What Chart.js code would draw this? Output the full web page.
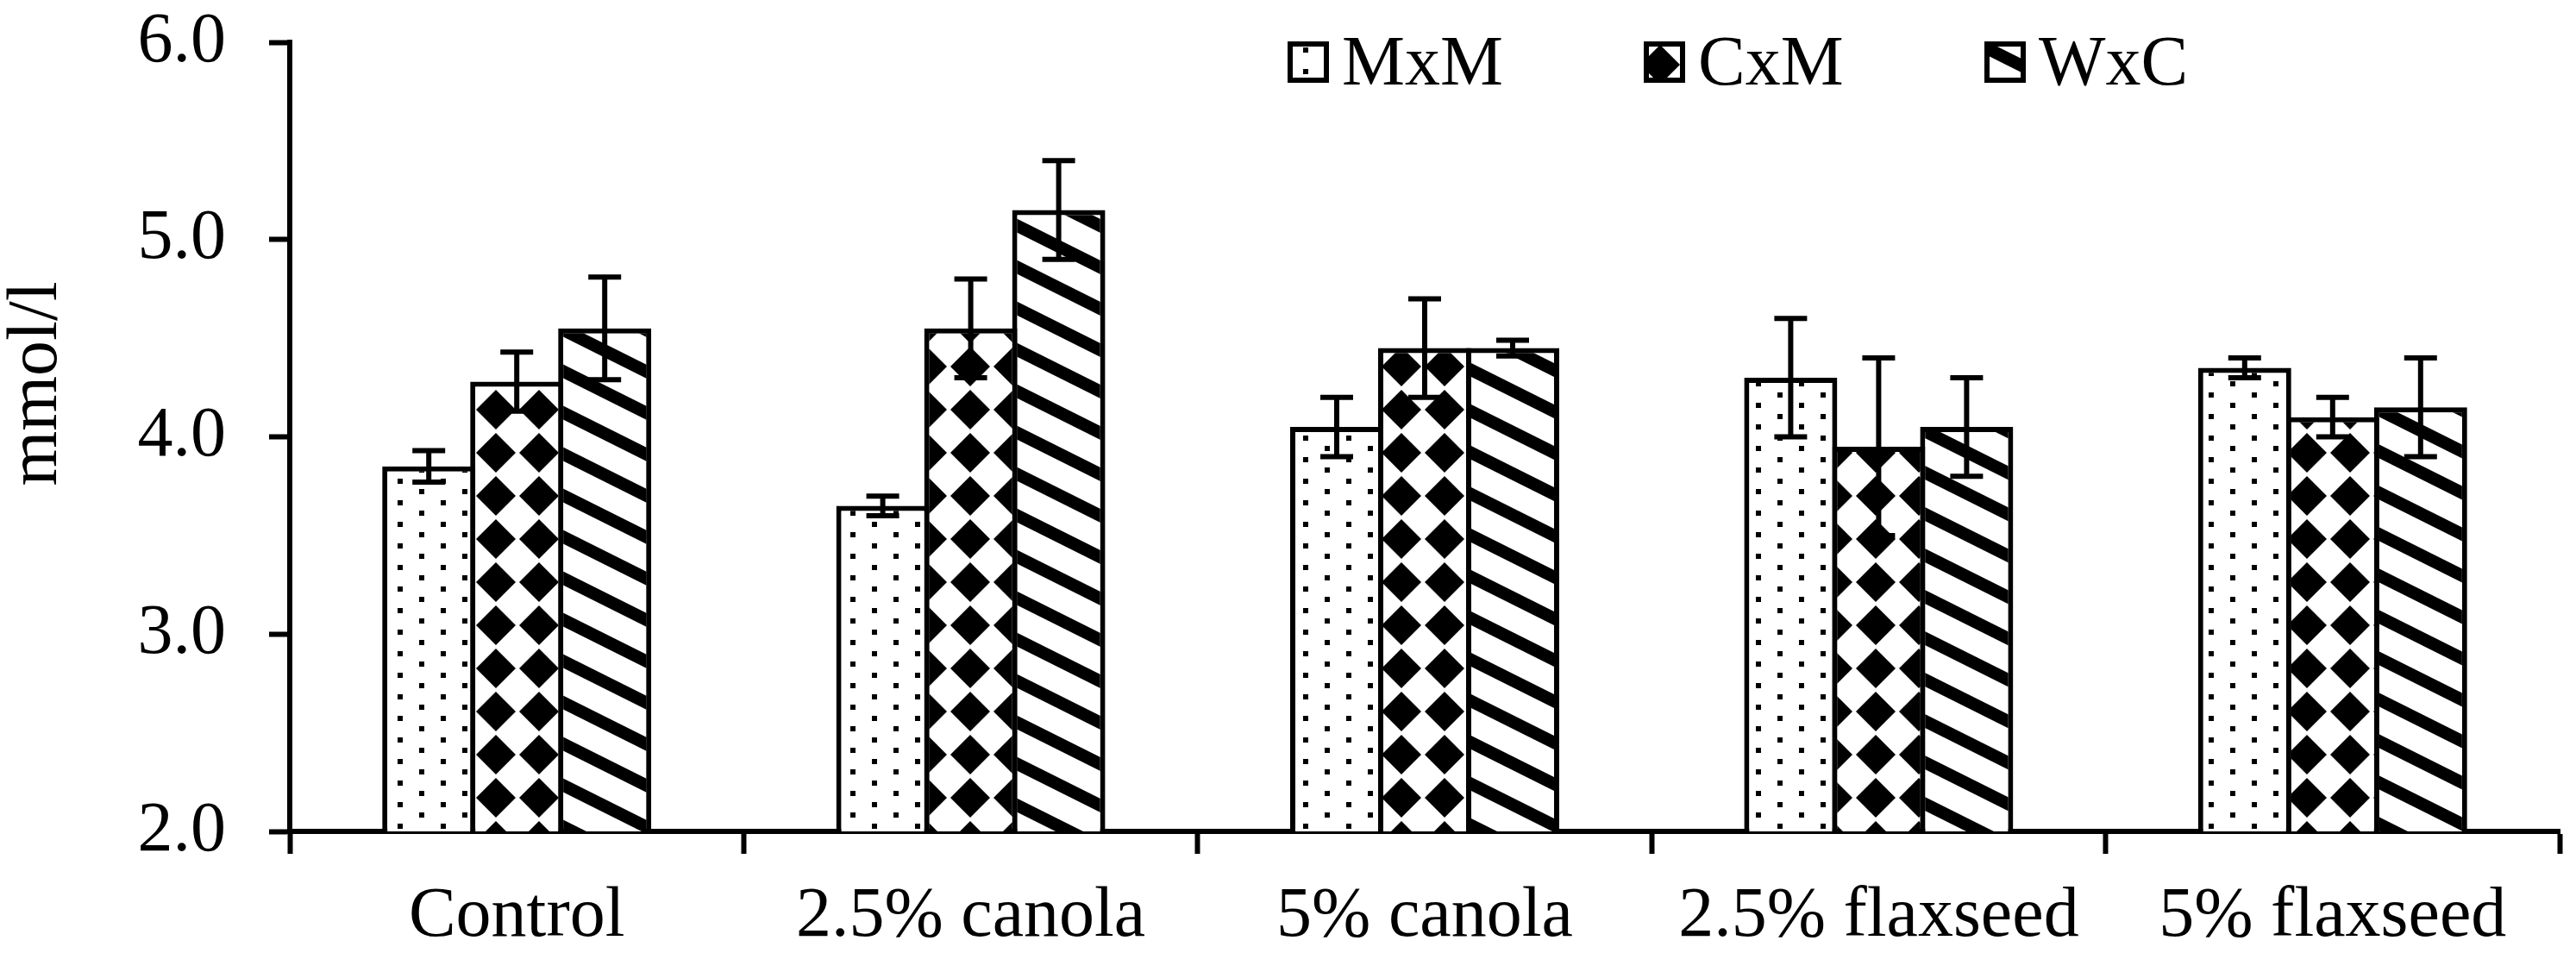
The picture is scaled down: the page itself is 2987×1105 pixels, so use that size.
<!DOCTYPE html>
<html>
<head>
<meta charset="utf-8">
<script src="https://cdn.jsdelivr.net/npm/chart.js@4.4.1/dist/chart.umd.min.js"></script>
<style>
  html, body { margin: 0; padding: 0; background: #fff; }
  #wrap { width: 2987px; height: 1105px; }
</style>
</head>
<body>
<div id="wrap"><canvas id="c" width="2987" height="1105"></canvas></div>
<script>
// ---- data ----
const categories = ['Control', '2.5% canola', '5% canola', '2.5% flaxseed', '5% flaxseed'];
const seriesNames = ['MxM', 'CxM', 'WxC'];
const mxm = [3.85, 3.65, 4.05, 4.30, 4.35];
const cxm = [4.28, 4.55, 4.45, 3.95, 4.10];
const wxc = [4.55, 5.15, 4.45, 4.05, 4.15];
const mxmErr = [0.08, 0.05, 0.15, 0.30, 0.05];
const cxmErr = [0.15, 0.25, 0.25, 0.45, 0.10];
const wxcErr = [0.26, 0.25, 0.04, 0.25, 0.25];
const yTickLabels = ['2.0', '3.0', '4.0', '5.0', '6.0'];
const yTitle = 'mmol/l';

// ---- patterns ----
const canvas = document.getElementById('c');
const mainCtx = canvas.getContext('2d');

function makeTile(w, h, draw) {
  const t = document.createElement('canvas');
  t.width = w; t.height = h;
  const g = t.getContext('2d');
  g.fillStyle = '#fff'; g.fillRect(0, 0, w, h);
  g.fillStyle = '#000';
  draw(g);
  return mainCtx.createPattern(t, 'repeat');
}
const patDots = makeTile(50, 25, g => {
  g.fillRect(11, 5, 6, 6);
  g.fillRect(36, 17, 6, 6);
});
const patDiamonds = makeTile(50, 50, g => {
  const h = 23;
  g.beginPath();
  g.moveTo(25, 25 - h); g.lineTo(25 + h, 25); g.lineTo(25, 25 + h); g.lineTo(25 - h, 25);
  g.closePath(); g.fill();
});
const patStripes = makeTile(96, 48, g => {
  for (let k = -2; k <= 1; k++) {
    const o = k * 48;
    g.beginPath();
    g.moveTo(0, o); g.lineTo(96, o + 48); g.lineTo(96, o + 48 + 16); g.lineTo(0, o + 16);
    g.closePath(); g.fill();
  }
});
const patterns = [patDots, patDiamonds, patStripes];
const seriesValues = [mxm, cxm, wxc];
const seriesErrors = [mxmErr, cxmErr, wxcErr];

const FONT = 'Liberation Serif';

// ---- plugins ----
const whiteBg = {
  id: 'whiteBg',
  beforeDraw(chart) {
    const c = chart.ctx;
    c.save(); c.fillStyle = '#fff'; c.fillRect(0, 0, chart.width, chart.height); c.restore();
  }
};

const errorBars = {
  id: 'errorBars',
  afterDatasetsDraw(chart) {
    const c = chart.ctx;
    const ys = chart.scales.y;
    c.save();
    c.strokeStyle = '#000';
    c.lineWidth = 6;
    c.lineCap = 'butt';
    chart.data.datasets.forEach((ds, i) => {
      const meta = chart.getDatasetMeta(i);
      meta.data.forEach((bar, j) => {
        const v = ds.data[j], e = seriesErrors[i][j];
        const yt = ys.getPixelForValue(v + e);
        const yb = ys.getPixelForValue(v - e);
        const x = bar.x, hw = 19;
        c.beginPath();
        c.moveTo(x, yt); c.lineTo(x, yb);
        c.moveTo(x - hw, yt); c.lineTo(x + hw, yt);
        c.moveTo(x - hw, yb); c.lineTo(x + hw, yb);
        c.stroke();
      });
    });
    c.restore();
  }
};

const customLegend = {
  id: 'customLegend',
  afterDraw(chart) {
    const c = chart.ctx;
    const boxX = [1493, 1906, 2301];
    const boxY = 48, size = 48;
    c.save();
    c.font = '82px "' + FONT + '"';
    c.textBaseline = 'alphabetic';
    c.textAlign = 'left';
    chart.data.datasets.forEach((ds, i) => {
      const x = boxX[i];
      c.fillStyle = ds.backgroundColor;
      c.fillRect(x, boxY, size, size);
      c.strokeStyle = '#000';
      c.lineWidth = 6;
      c.strokeRect(x + 3, boxY + 3, size - 6, size - 6);
      c.fillStyle = '#000';
      c.fillText(ds.label, x + 63, 98);
    });
    c.restore();
  }
};

const yAxisTitle = {
  id: 'yAxisTitle',
  afterDraw(chart) {
    const c = chart.ctx;
    c.save();
    c.translate(65, 445);
    c.rotate(-Math.PI / 2);
    c.font = '82px "' + FONT + '"';
    c.fillStyle = '#000';
    c.textAlign = 'center';
    c.textBaseline = 'alphabetic';
    c.fillText(yTitle, 0, 0);
    c.restore();
  }
};

// ---- chart ----
new Chart(canvas, {
  type: 'bar',
  data: {
    labels: categories,
    datasets: seriesNames.map((name, i) => ({
      label: name,
      data: seriesValues[i],
      backgroundColor: patterns[i],
      borderColor: '#000',
      borderWidth: 6,
      borderSkipped: 'start',
      barPercentage: 108 / 102,
      categoryPercentage: 0.5813
    }))
  },
  options: {
    responsive: false,
    animation: false,
    devicePixelRatio: 1,
    layout: { padding: { top: 0, right: 19, left: 0, bottom: 0 } },
    plugins: { legend: { display: false }, tooltip: { enabled: false } },
    scales: {
      x: {
        grid: { display: true, drawOnChartArea: false, drawTicks: true, tickLength: 26, tickWidth: 6, tickColor: '#000', offset: true },
        border: { display: true, color: '#000', width: 6 },
        ticks: { color: '#000', font: { family: FONT, size: 82 }, padding: 24, maxRotation: 0, autoSkip: false },
        afterFit(s) { s.height = 141; }
      },
      y: {
        min: 2, max: 6,
        grid: { display: true, drawOnChartArea: false, drawTicks: true, tickLength: 24, tickWidth: 6, tickColor: '#000' },
        border: { display: true, color: '#000', width: 6 },
        ticks: {
          stepSize: 1, color: '#000', font: { family: FONT, size: 82 }, padding: 50,
          callback: (v) => yTickLabels[Math.round(v - 2)]
        },
        afterFit(s) { s.width = 336; s.paddingTop = 49; s.paddingBottom = 0; }
      }
    }
  },
  plugins: [whiteBg, errorBars, customLegend, yAxisTitle]
});
</script>
</body>
</html>
